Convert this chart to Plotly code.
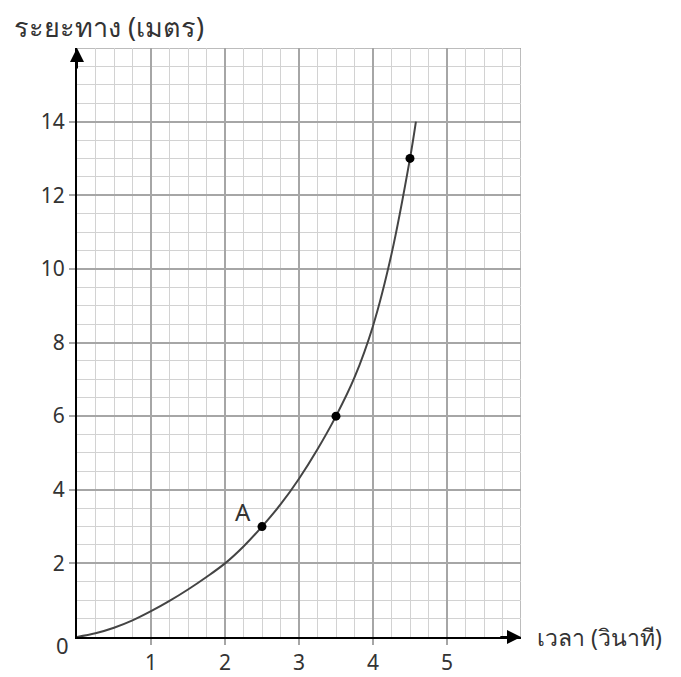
import plotly.graph_objects as go

# Curve (time in s, distance in m)
curve_t = [0, 0.25, 0.5, 0.75, 1.0, 1.25, 1.5, 1.75, 2.0, 2.25, 2.5, 2.75,
           3.0, 3.25, 3.5, 3.75, 4.0, 4.25, 4.5, 4.58]
curve_d = [0, 0.10, 0.25, 0.45, 0.70, 0.98, 1.29, 1.63, 2.0, 2.46, 3.0, 3.6,
           4.3, 5.1, 6.0, 7.05, 8.45, 10.4, 13.0, 14.0]

# Marked points
pts_t = [2.5, 3.5, 4.5]
pts_d = [3, 6, 13]

x_ticks = [1, 2, 3, 4, 5]
y_ticks = [2, 4, 6, 8, 10, 12, 14]
x_max = 6
y_max = 16

y_title = "ระยะทาง (เมตร)"
x_title = "เวลา (วินาที)"
point_label = "A"
label_pos = (2.24, 3.4)

FONT = "Noto Sans, DejaVu Sans, sans-serif"
TXT = "#333333"
MAJ = "#a6a6a6"
MIN = "#d2d2d2"

fig = go.Figure()
fig.add_trace(go.Scatter(x=curve_t, y=curve_d, mode="lines",
                         line=dict(color="#444444", width=2, shape="spline", smoothing=1.0),
                         hoverinfo="skip", showlegend=False))
fig.add_trace(go.Scatter(x=pts_t, y=pts_d, mode="markers",
                         marker=dict(color="black", size=9),
                         showlegend=False))

# grid borders at right and top
fig.add_shape(type="line", x0=x_max, x1=x_max, y0=0, y1=y_max, xref="x", yref="y",
              line=dict(color=MAJ, width=1.5), layer="below")
fig.add_shape(type="line", x0=0, x1=x_max, y0=y_max, y1=y_max, xref="x", yref="y",
              line=dict(color=MAJ, width=1.5), layer="below")

# axis arrows
fig.add_annotation(x=x_max, y=0, ax=x_max - 0.3, ay=0, xref="x", yref="y", axref="x", ayref="y",
                   showarrow=True, arrowhead=2, arrowsize=1.4, arrowwidth=2, arrowcolor="black",
                   text="", standoff=0)
fig.add_annotation(x=0, y=y_max, ax=0, ay=y_max - 0.6, xref="x", yref="y", axref="x", ayref="y",
                   showarrow=True, arrowhead=2, arrowsize=1.4, arrowwidth=2, arrowcolor="black",
                   text="", standoff=0)

fig.add_annotation(x=label_pos[0], y=label_pos[1], xref="x", yref="y", text=point_label,
                   showarrow=False, font=dict(family=FONT, size=24, color=TXT))
fig.add_annotation(x=0, y=0, xref="x", yref="y", text="0", showarrow=False,
                   xshift=-15, yshift=-8, font=dict(family=FONT, size=22, color=TXT))
fig.add_annotation(x=-0.146, y=1.036, xref="paper", yref="paper", text=y_title,
                   showarrow=False, xanchor="left", yanchor="middle",
                   font=dict(family=FONT, size=27, color=TXT))
fig.add_annotation(x=1.032, y=0, xref="paper", yref="paper", text=x_title,
                   showarrow=False, xanchor="left", yanchor="middle",
                   font=dict(family=FONT, size=23, color=TXT))

axis_common = dict(ticks="outside", ticklen=6, tickcolor=MAJ, tickwidth=1.5,
                   showgrid=True, gridcolor=MAJ, gridwidth=1.5,
                   showline=True, linecolor="black", linewidth=2, zeroline=False,
                   tickfont=dict(family=FONT, size=21, color=TXT), fixedrange=True,
                   automargin=False)
fig.update_xaxes(range=[0, x_max], tickvals=x_ticks,
                 minor=dict(dtick=0.25, tick0=0, showgrid=True, gridcolor=MIN, gridwidth=1),
                 **axis_common)
fig.update_yaxes(range=[0, y_max], tickvals=y_ticks,
                 minor=dict(dtick=0.5, tick0=0, showgrid=True, gridcolor=MIN, gridwidth=1),
                 **axis_common)

# page body has an 8px margin, so the figure is sized/placed to compensate
fig.update_layout(width=673, height=669, margin=dict(l=69, r=160, t=40, b=40),
                  plot_bgcolor="white", paper_bgcolor="white", showlegend=False)

fig.write_html("out.html")
